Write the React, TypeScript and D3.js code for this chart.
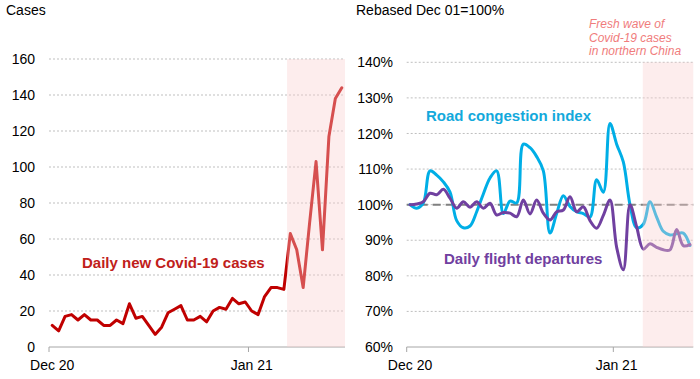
import React from "react";
import * as d3 from "d3";

// ---------- data ----------
const seriesStart = [2020, 11, 1]; // Dec 1 2020
const dailyCases = [
  12, 9, 17, 18, 15, 18, 15, 15, 12, 12, 15, 13, 24, 16, 17, 12, 7, 11, 19, 21,
  23, 15, 15, 17, 14, 20, 22, 21, 27, 24, 25, 20, 18, 28, 33, 33, 32, 63, 54, 33,
  69, 103, 54, 117, 138, 144,
];
const roadCongestion = [
  100, 99, 100.5, 109.5, 108.3, 106.4, 103.5, 95.5, 93.5, 94, 98, 103, 107.5, 109.5,
  97.5, 101, 100.5, 117, 116, 113.5, 109.5, 92, 97.5, 102.5, 99.5, 98, 97.5, 96.5,
  107, 103.5, 122.8, 117, 112, 100, 93.5, 94.5, 100.8, 96.5, 92.5, 91.5, 91.8, 92, 88.5,
];
const flightDepartures = [
  100, 100.2, 100.8, 103.2, 102.8, 104.3, 101.8, 99, 100.8, 99.3, 100.8, 99, 100.4,
  97.1, 97.8, 97.6, 96.6, 101.3, 97.4, 101.3, 97.6, 95.7, 98, 98.5, 102.2, 98, 99.4,
  95.5, 93.4, 97, 101.3, 88, 81.7, 100, 93.8, 87.5, 89, 88, 87.3, 87.3, 93, 88.5, 88.8,
];
const leftYTicks = [0, 20, 40, 60, 80, 100, 120, 140, 160];
const rightYTicks = [60, 70, 80, 90, 100, 110, 120, 130, 140];
const monthTickDates = [
  [2020, 11, 1],
  [2021, 0, 1],
];
const monthTickLabels = ["Dec 20", "Jan 21"];
const leftShadeStart = [2021, 0, 7, 0];
const rightShadeStart = [2021, 0, 5, 10];
const baseline = 100;

// ---------- helpers ----------
const FONT = "'Liberation Sans', Arial, Helvetica, sans-serif";
const mkDate = (a: number[]) => new Date(a[0], a[1], a[2], a[3] || 0);
const start = mkDate(seriesStart);
const dayNoon = (i: number) => d3.timeHour.offset(d3.timeDay.offset(start, i), 12);

const RED = "#C00000";
const BLUE = "#00AEE6";
const PURPLE = "#7040A0";
const GRID = "#BFBFBF";
const AXIS = "#A6A6A6";
const SHADE = "rgba(250,208,208,0.38)";

type PanelProps = {
  x0: number;
  x1: number;
  yTop: number;
  yBottom: number;
  nDays: number;
  yDomain: [number, number];
  yTicks: number[];
  yFmt: (v: number) => string;
  yLabelX: number;
  shade: Date;
  children: (x: d3.ScaleTime<number, number>, y: d3.ScaleLinear<number, number>) => React.ReactNode;
};

function Panel(p: PanelProps) {
  const x = d3
    .scaleTime()
    .domain([start, d3.timeDay.offset(start, p.nDays)])
    .range([p.x0, p.x1]);
  const y = d3.scaleLinear().domain(p.yDomain).range([p.yBottom, p.yTop]);
  const halfDay = (x(d3.timeDay.offset(start, 1)) - x(start)) / 2;
  return (
    <g>
      {p.yTicks.map((t, i) => (
        <g key={t}>
          {i > 0 && (
            <line
              x1={p.x0}
              x2={p.x1}
              y1={y(t)}
              y2={y(t)}
              stroke={GRID}
              strokeWidth={1}
              strokeDasharray="2,2"
            />
          )}
          <text
            x={p.yLabelX}
            y={y(t)}
            dy="0.36em"
            textAnchor="end"
            fontSize={14}
            fontFamily={FONT}
            fill="#000"
          >
            {p.yFmt(t)}
          </text>
        </g>
      ))}
      <line x1={p.x0} x2={p.x1} y1={p.yBottom} y2={p.yBottom} stroke={AXIS} strokeWidth={1} />
      {monthTickDates.map((d, i) => {
        const tx = x(mkDate(d));
        return (
          <g key={i}>
            <line x1={tx} x2={tx} y1={p.yBottom} y2={p.yBottom + 5} stroke={AXIS} strokeWidth={1} />
            <text
              x={tx + halfDay}
              y={370}
              textAnchor="middle"
              fontSize={14}
              fontFamily={FONT}
              fill="#000"
            >
              {monthTickLabels[i]}
            </text>
          </g>
        );
      })}
      {p.children(x, y)}
      <rect
        x={x(p.shade)}
        y={p.yTop}
        width={p.x1 - x(p.shade)}
        height={p.yBottom - p.yTop}
        fill={SHADE}
      />
    </g>
  );
}

export default function App() {
  const lineLeft = (x: any, y: any) =>
    d3
      .line<number>()
      .x((_, i) => x(dayNoon(i)))
      .y((d) => y(d))
      .curve(d3.curveLinear);
  const lineSmooth = (x: any, y: any) =>
    d3
      .line<number>()
      .x((_, i) => x(dayNoon(i)))
      .y((d) => y(d))
      .curve(d3.curveCatmullRom.alpha(0.5));

  return (
    <div style={{ position: "absolute", left: 0, top: 0 }}>
      <svg width={700} height={379} style={{ display: "block", background: "#fff" }}>
        {/* Left panel */}
        <text x={6} y={15} fontSize={14} fontFamily={FONT} fill="#000">
          Cases
        </text>
        <Panel
          x0={49}
          x1={345}
          yTop={59}
          yBottom={347}
          nDays={dailyCases.length}
          yDomain={[0, 160]}
          yTicks={leftYTicks}
          yFmt={(v) => String(v)}
          yLabelX={35}
          shade={mkDate(leftShadeStart)}
        >
          {(x, y) => (
            <g>
              <path
                d={lineLeft(x, y)(dailyCases) || ""}
                fill="none"
                stroke={RED}
                strokeWidth={3}
                strokeLinejoin="round"
                strokeLinecap="round"
              />
              <text
                x={82}
                y={268}
                fontSize={15}
                fontWeight="bold"
                fontFamily={FONT}
                fill="#C0201A"
              >
                Daily new Covid-19 cases
              </text>
            </g>
          )}
        </Panel>

        {/* Right panel */}
        <text x={356} y={15} fontSize={14} fontFamily={FONT} fill="#000">
          Rebased Dec 01=100%
        </text>
        <Panel
          x0={406.7}
          x1={693.3}
          yTop={62.3}
          yBottom={347}
          nDays={roadCongestion.length}
          yDomain={[60, 140]}
          yTicks={rightYTicks}
          yFmt={(v) => `${v}%`}
          yLabelX={393}
          shade={mkDate(rightShadeStart)}
        >
          {(x, y) => (
            <g>
              <line
                x1={406.7}
                x2={693.3}
                y1={y(baseline)}
                y2={y(baseline)}
                stroke="#808080"
                strokeWidth={2}
                strokeDasharray="8,5"
              />
              <path
                d={lineSmooth(x, y)(roadCongestion) || ""}
                fill="none"
                stroke={BLUE}
                strokeWidth={3}
                strokeLinejoin="round"
                strokeLinecap="round"
              />
              <path
                d={lineSmooth(x, y)(flightDepartures) || ""}
                fill="none"
                stroke={PURPLE}
                strokeWidth={3}
                strokeLinejoin="round"
                strokeLinecap="round"
              />
              <text
                x={426}
                y={121}
                fontSize={15}
                fontWeight="bold"
                fontFamily={FONT}
                fill="#13A9DC"
              >
                Road congestion index
              </text>
              <text
                x={444}
                y={264}
                fontSize={15}
                fontWeight="bold"
                fontFamily={FONT}
                fill={PURPLE}
              >
                Daily flight departures
              </text>
            </g>
          )}
        </Panel>
        <g fontSize={12} fontStyle="italic" fontFamily={FONT} fill="#F07C7C">
          <text x={589} y={28}>Fresh wave of</text>
          <text x={589} y={41.5}>Covid-19 cases</text>
          <text x={589} y={55}>in northern China</text>
        </g>
      </svg>
    </div>
  );
}
